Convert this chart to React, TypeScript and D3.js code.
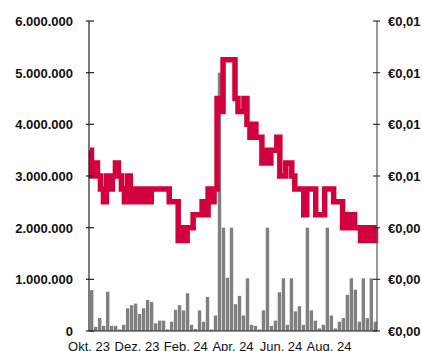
import React from "react";
import * as d3 from "d3";

// Volume bars (shares), read left to right
const volumes: number[] = [
  790000, 80000, 250000, 100000, 760000, 100000, 100000, 30000, 120000, 440000,
  500000, 530000, 330000, 440000, 600000, 560000, 150000, 200000, 200000, 30000,
  180000, 410000, 500000, 400000, 730000, 120000, 40000, 400000, 180000, 660000,
  30000, 300000, 5000000, 2000000, 1030000, 2000000, 520000, 680000, 300000, 1020000,
  120000, 100000, 30000, 400000, 2000000, 100000, 200000, 750000, 1020000, 120000,
  1020000, 380000, 480000, 120000, 2000000, 400000, 200000, 50000, 120000, 2000000,
  300000, 50000, 180000, 250000, 700000, 1020000, 800000, 180000, 1020000, 250000,
  1020000, 180000,
];

// Share price (EUR), read left to right
const prices: number[] = [
  0.0070, 0.0060, 0.0065, 0.0060, 0.0055, 0.0050, 0.0060, 0.0055, 0.0060, 0.0065,
  0.0060, 0.0055, 0.0050, 0.0060, 0.0050, 0.0055, 0.0050, 0.0055, 0.0050, 0.0055,
  0.0050, 0.0055, 0.0055, 0.0055, 0.0055, 0.0055, 0.0055, 0.0050, 0.0050, 0.0050,
  0.0035, 0.0040, 0.0035, 0.0040, 0.0040, 0.0045, 0.0045, 0.0045, 0.0050, 0.0045,
  0.0055, 0.0050, 0.0055, 0.0090, 0.0085, 0.0105, 0.0105, 0.0105, 0.0105, 0.0090,
  0.0085, 0.0085, 0.0090, 0.0080, 0.0075, 0.0080, 0.0075, 0.0075, 0.0065, 0.0070,
  0.0065, 0.0070, 0.0070, 0.0075, 0.0060, 0.0060, 0.0065, 0.0065, 0.0060, 0.0055,
  0.0055, 0.0055, 0.0045, 0.0055, 0.0055, 0.0055, 0.0045, 0.0045, 0.0045, 0.0055,
  0.0055, 0.0055, 0.0050, 0.0050, 0.0050, 0.0040, 0.0045, 0.0040, 0.0045, 0.0040,
  0.0040, 0.0035, 0.0040, 0.0035, 0.0040, 0.0035, 0.0040,
];

const xTickLabels: string[] = ["Okt. 23", "Dez. 23", "Feb. 24", "Apr. 24", "Jun. 24", "Aug. 24"];
const xTickDates: string[] = ["2023-10-01", "2023-12-01", "2024-02-01", "2024-04-01", "2024-06-01", "2024-08-01"];
const dateDomain: string[] = ["2023-10-01", "2024-10-01"];

const W = 422;
const H = 351;
const left = 89;
const right = 377;
const top = 21;
const bottom = 331;

const locale = d3.formatLocale({
  decimal: ",",
  thousands: ".",
  grouping: [3],
  currency: ["€", ""],
});
const fmtLeft = locale.format(",.0f");
const fmtRight = locale.format("$,.2f");

export default function App() {
  const yL = d3.scaleLinear().domain([0, 6000000]).range([bottom, top]);
  const yR = d3.scaleLinear().domain([0, 0.012]).range([bottom, top]);
  const xTime = d3
    .scaleTime()
    .domain(dateDomain.map((d) => new Date(d + "T00:00:00")))
    .range([left, right]);
  const xBand = d3
    .scaleBand<number>()
    .domain(volumes.map((_, i) => i))
    .range([left + 1, right])
    .paddingInner(0.15);
  const xLine = d3.scaleLinear().domain([0, prices.length - 1]).range([left + 1, right]);

  const line = d3
    .line<number>()
    .x((_, i) => xLine(i))
    .y((d) => yR(d))
    .curve(d3.curveStep);

  const font = "'Liberation Sans', Arial, Helvetica, sans-serif";

  return (
    <svg
      width={W}
      height={H}
      style={{ position: "absolute", left: 0, top: 0, background: "#fff" }}
      fontFamily={font}
    >
      {/* bars */}
      <g fill="#808080">
        {volumes.map((v, i) => (
          <rect
            key={i}
            x={xBand(i)}
            y={yL(v)}
            width={xBand.bandwidth()}
            height={bottom - yL(v)}
          />
        ))}
      </g>
      {/* price line */}
      <path
        d={line(prices) || ""}
        fill="none"
        stroke="#d2003c"
        strokeWidth={5.5}
        strokeLinejoin="miter"
      />
      {/* left axis */}
      <line x1={left} x2={left} y1={top} y2={bottom} stroke="#222" strokeWidth={1.2} />
      {yL.ticks(6).map((t) => (
        <g key={"l" + t}>
          <line x1={left - 3} x2={left + 5} y1={yL(t)} y2={yL(t)} stroke="#222" strokeWidth={1.2} />
          <text
            x={73}
            y={yL(t)}
            dy="0.38em"
            textAnchor="end"
            fontSize={13}
            fontWeight="bold"
            fill="#111"
          >
            {fmtLeft(t)}
          </text>
        </g>
      ))}
      {/* right axis */}
      <line x1={right} x2={right} y1={top} y2={bottom} stroke="#555" strokeWidth={1.2} />
      {yR.ticks(6).map((t) => (
        <g key={"r" + t}>
          <line x1={right - 4} x2={right + 3} y1={yR(t)} y2={yR(t)} stroke="#333" strokeWidth={1.2} />
          <text
            x={388}
            y={yR(t)}
            dy="0.38em"
            textAnchor="start"
            fontSize={13}
            fontWeight="bold"
            fill="#111"
          >
            {fmtRight(t)}
          </text>
        </g>
      ))}
      {/* bottom axis */}
      <line x1={left} x2={right} y1={bottom} y2={bottom} stroke="#222" strokeWidth={1.2} />
      {xTickDates.map((d, i) => {
        const x = xTime(new Date(d + "T00:00:00"));
        return (
          <text key={d} x={x} y={351} textAnchor="middle" fontSize={13} fill="#111">
            {xTickLabels[i]}
          </text>
        );
      })}
    </svg>
  );
}
